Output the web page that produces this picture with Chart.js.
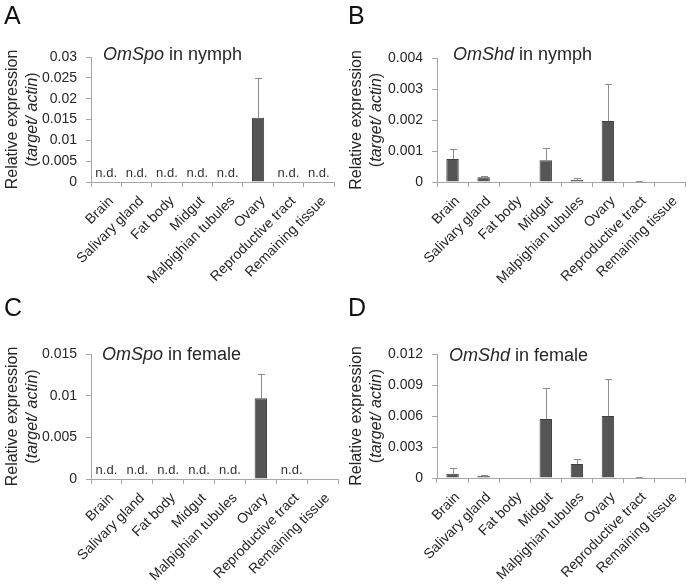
<!DOCTYPE html>
<html>
<head>
<meta charset="utf-8">
<script src="https://cdn.jsdelivr.net/npm/chart.js@4.4.1/dist/chart.umd.min.js"></script>
<style>
  html, body { margin: 0; padding: 0; background: #fff; }
  #wrap { position: relative; width: 688px; height: 584px; }
  canvas { position: absolute; }
</style>
</head>
<body>
<div id="wrap">
  <canvas id="panelA" width="344" height="292" style="left:0;top:0"></canvas>
  <canvas id="panelB" width="344" height="292" style="left:344px;top:0"></canvas>
  <canvas id="panelC" width="344" height="292" style="left:0;top:292px"></canvas>
  <canvas id="panelD" width="344" height="292" style="left:344px;top:292px"></canvas>
</div>
<script>
const tissues = ["Brain", "Salivary gland", "Fat body", "Midgut", "Malpighian tubules", "Ovary", "Reproductive tract", "Remaining tissue"];

// A: OmSpo in nymph
const spoNymphMean = [0, 0, 0, 0, 0, 0.0154, 0, 0];
const spoNymphSd   = [0, 0, 0, 0, 0, 0.0096, 0, 0];
const spoNymphNd   = [true, true, true, true, true, false, true, true];

// B: OmShd in nymph
const shdNymphMean = [0.00074, 0.00015, 0, 0.0007, 0.00007, 0.00197, 0.00002, 0];
const shdNymphSd   = [0.00032, 0.00003, 0, 0.0004, 0.00005, 0.00118, 0.00001, 0];
const shdNymphNd   = [false, false, false, false, false, false, false, false];

// C: OmSpo in female
const spoFemaleMean = [0, 0, 0, 0, 0, 0.0097, 0, 0];
const spoFemaleSd   = [0, 0, 0, 0, 0, 0.0029, 0, 0];
const spoFemaleNd   = [true, true, true, true, true, false, true, false];

// D: OmShd in female
const shdFemaleMean = [0.00042, 0.00022, 0, 0.0057, 0.00135, 0.006, 0.00005, 0];
const shdFemaleSd   = [0.00051, 0.0001, 0, 0.003, 0.00045, 0.00356, 0.00003, 0];
const shdFemaleNd   = [false, false, false, false, false, false, false, false];

const yMaxA = 0.03, yStepA = 0.005;
const yMaxB = 0.004, yStepB = 0.001;
const yMaxC = 0.015, yStepC = 0.005;
const yMaxD = 0.012, yStepD = 0.003;

const FONT = "Arial, 'Liberation Sans', sans-serif";
const AXIS_COLOR = "#a6a6a6";
const TEXT_COLOR = "#262626";

function drawSegments(ctx, segments, x, y, size, align) {
    let total = 0;
    for (const s of segments) {
        ctx.font = (s.italic ? "italic " : "") + size + "px " + FONT;
        total += ctx.measureText(s.text).width;
    }
    let cx = align === "center" ? x - total / 2 : x;
    for (const s of segments) {
        ctx.font = (s.italic ? "italic " : "") + size + "px " + FONT;
        ctx.fillText(s.text, cx, y);
        cx += ctx.measureText(s.text).width;
    }
}

const decorPlugin = {
    id: "decor",
    afterDatasetsDraw(chart) {
        const cfg = chart.options.plugins.decor;
        const ctx = chart.ctx;
        const xs = chart.scales.x;
        const ys = chart.scales.y;
        const meta = chart.getDatasetMeta(0);
        const mean = chart.data.datasets[0].data;

        // error bars (upper only)
        ctx.save();
        ctx.strokeStyle = "#8c8c8c";
        ctx.lineWidth = 1;
        meta.data.forEach((bar, i) => {
            const sd = cfg.sd[i];
            if (!sd) return;
            const x = Math.round(bar.x) + 0.5;
            const yTop = Math.round(ys.getPixelForValue(mean[i] + sd)) + 0.5;
            ctx.beginPath();
            ctx.moveTo(x, bar.y);
            ctx.lineTo(x, yTop);
            ctx.moveTo(x - 3.5, yTop);
            ctx.lineTo(x + 3.5, yTop);
            ctx.stroke();
        });

        // n.d. labels
        ctx.fillStyle = "#333";
        ctx.font = "13px " + FONT;
        ctx.textAlign = "center";
        ctx.textBaseline = "alphabetic";
        cfg.nd.forEach((flag, i) => {
            if (!flag) return;
            ctx.fillText("n.d.", xs.getPixelForValue(i), ys.bottom - 5);
        });

        // panel letter
        ctx.textAlign = "left";
        ctx.fillStyle = "#111";
        ctx.font = "25px " + FONT;
        ctx.fillText(cfg.letter, 4, 24);

        // chart title with italic gene name
        ctx.fillStyle = TEXT_COLOR;
        ctx.textBaseline = "middle";
        drawSegments(ctx, [{ text: cfg.gene, italic: true }, { text: " in " + cfg.stage }], cfg.titleX, cfg.titleY, 18, "left");

        // y axis title, two lines, rotated
        const midY = (ys.top + ys.bottom) / 2;
        ctx.translate(13, midY);
        ctx.rotate(-Math.PI / 2);
        drawSegments(ctx, [{ text: "Relative expression" }], 0, 0, 16, "center");
        drawSegments(ctx, [{ text: "(" }, { text: "target/ actin", italic: true }, { text: ")" }], 0, 20, 16, "center");
        ctx.restore();
    }
};

function makePanel(id, letter, gene, stage, mean, sd, nd, yMax, yStep, box) {
    const ctx = document.getElementById(id).getContext("2d");
    return new Chart(ctx, {
        type: "bar",
        data: {
            labels: tissues,
            datasets: [{
                data: mean,
                backgroundColor: "#555555",
                borderColor: "#404040",
                borderWidth: 1,
                barPercentage: 0.4,
                categoryPercentage: 1
            }]
        },
        options: {
            responsive: false,
            animation: false,
            devicePixelRatio: 1,
            layout: {
                padding: { left: 0, top: box.top, right: box.right, bottom: 0 }
            },
            plugins: {
                legend: { display: false },
                tooltip: { enabled: false },
                decor: { letter, gene, stage, sd, nd, titleX: box.titleX, titleY: box.titleY }
            },
            scales: {
                x: {
                    afterFit: s => { s.height = 292 - box.bottom; },
                    grid: {
                        display: true,
                        drawOnChartArea: false,
                        offset: true,
                        color: AXIS_COLOR,
                        tickLength: 5
                    },
                    border: { display: true, color: AXIS_COLOR },
                    ticks: {
                        autoSkip: false,
                        minRotation: 45,
                        maxRotation: 45,
                        padding: 6,
                        labelOffset: 5,
                        color: TEXT_COLOR,
                        font: { family: FONT, size: 14 }
                    }
                },
                y: {
                    min: 0,
                    max: yMax,
                    afterFit: s => { s.width = box.left; },
                    grid: {
                        display: true,
                        drawOnChartArea: false,
                        color: AXIS_COLOR,
                        tickLength: 5
                    },
                    border: { display: true, color: AXIS_COLOR },
                    ticks: {
                        stepSize: yStep,
                        padding: 9,
                        color: TEXT_COLOR,
                        font: { family: FONT, size: 14 },
                        callback: v => String(+v.toFixed(4))
                    }
                }
            }
        },
        plugins: [decorPlugin]
    });
}

makePanel("panelA", "A", "OmSpo", "nymph", spoNymphMean, spoNymphSd, spoNymphNd, yMaxA, yStepA,
    { left: 91, top: 57, right: 10, bottom: 182, titleX: 103, titleY: 55 });
makePanel("panelB", "B", "OmShd", "nymph", shdNymphMean, shdNymphSd, shdNymphNd, yMaxB, yStepB,
    { left: 93, top: 58, right: 2, bottom: 182, titleX: 109, titleY: 55 });
makePanel("panelC", "C", "OmSpo", "female", spoFemaleMean, spoFemaleSd, spoFemaleNd, yMaxC, yStepC,
    { left: 91, top: 62, right: 6, bottom: 187, titleX: 102, titleY: 63 });
makePanel("panelD", "D", "OmShd", "female", shdFemaleMean, shdFemaleSd, shdFemaleNd, yMaxD, yStepD,
    { left: 93, top: 62, right: 1, bottom: 186, titleX: 105, titleY: 64 });
</script>
</body>
</html>
